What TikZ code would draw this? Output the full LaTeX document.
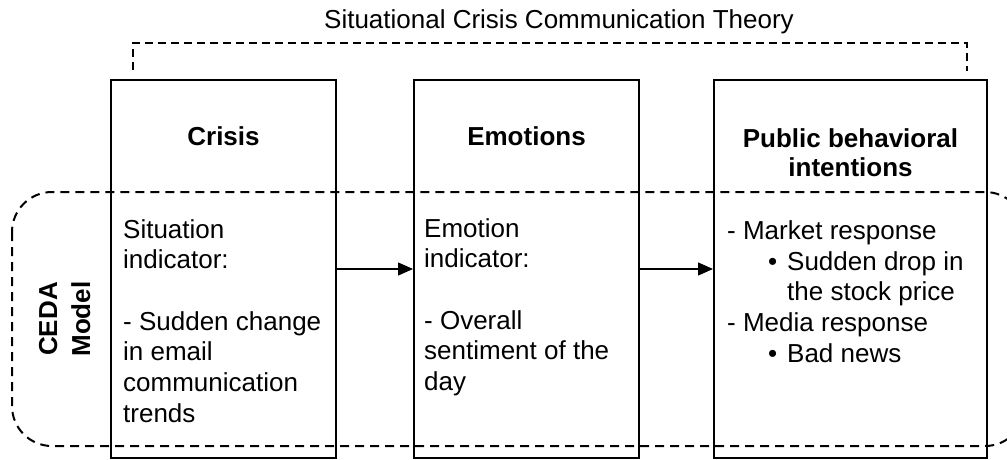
\documentclass[tikz,border=0pt]{standalone}
\usepackage{fontspec}
\setmainfont{Liberation Sans}
\usetikzlibrary{arrows.meta}
\begin{document}
\begin{tikzpicture}[x=1pt,y=-1pt,
  box/.style={draw, line width=2pt, minimum width=#1, minimum height=378pt, inner sep=0pt},
  txt/.style={font=\fontsize{26}{30.7}\selectfont, inner sep=0pt, anchor=base west},
  head/.style={font=\fontsize{26}{28.5}\selectfont\bfseries, inner sep=0pt, anchor=base},
  conn/.style={line width=1.2pt, -{Triangle[length=15pt,width=13pt]}},
  brk/.style={line width=1.1pt, dash pattern=on 8pt off 5pt},
  region/.style={line width=2pt, dash pattern=on 9pt off 6pt, rounded corners=40pt}]
\useasboundingbox (0,0) rectangle (1007,459);
\clip (0,0) rectangle (1007,459);

% title and bracket
\node[font=\fontsize{26}{30}\selectfont, anchor=base, inner sep=0pt] (title) at (559,28) {Situational Crisis Communication Theory};
\coordinate (bl) at (133,70);
\coordinate (br) at (967,71);
\draw[brk] (bl) -- (bl |- 0,43) -- (br |- 0,43) -- (br);

% boxes
\node[box=225pt] (b1) at (223.5,269) {};
\node[box=225pt] (b2) at (526.5,269) {};
\node[box=273pt] (b3) at (850.5,269) {};

% headings
\node[head] (h1) at (223.5,145.5) {Crisis};
\node[head] (h2) at (526.5,145.5) {Emotions};
\node[head] (h3) at (850.5,147.5) {\begin{tabular}[t]{@{}c@{}}Public behavioral\\intentions\end{tabular}};

% body texts
\node[txt] (t1) at (123,238) {\begin{tabular}[t]{@{}l@{}}Situation\\indicator:\\ \\- Sudden change\\in email\\communication\\trends\end{tabular}};
\node[txt] (t2) at (424,237) {\begin{tabular}[t]{@{}l@{}}Emotion\\indicator:\\ \\- Overall\\sentiment of the\\day\end{tabular}};
\node[txt] (t3) at (727,239.5) {\begin{tabular}[t]{@{}l@{}}- Market response\\
\hspace*{41pt}\makebox[19pt][l]{•}Sudden drop in\\
\hspace*{60pt}the stock price\\
- Media response\\
\hspace*{41pt}\makebox[19pt][l]{•}Bad news\end{tabular}};

% CEDA model region
\draw[region] (12,192) rectangle (1025,446);
\node[rotate=90, anchor=base, inner sep=0pt, font=\fontsize{26}{33}\selectfont\bfseries] (ceda) at (57,319) {\begin{tabular}[t]{@{}c@{}}CEDA\\Model\end{tabular}};

% connectors
\draw[conn] (b1.east) -- (b2.west);
\draw[conn] (b2.east) -- (b3.west);
\end{tikzpicture}
\end{document}
